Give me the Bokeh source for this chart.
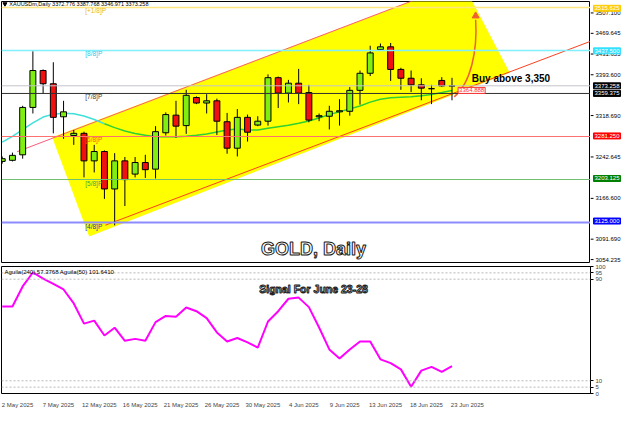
from bokeh.plotting import figure
from bokeh.layouts import column, row
from bokeh.models import Range1d, LinearAxis, FixedTicker, Label, Span
from bokeh.embed import file_html
from bokeh.resources import INLINE
from bokeh.core.properties import value

# ---------------- data ----------------
opens = [3236, 3238, 3248, 3334, 3401, 3377, 3317, 3283, 3287, 3237, 3254, 3186, 3237, 3213, 3234,
         3222, 3288, 3320, 3301, 3352, 3342, 3346, 3308, 3260, 3316, 3302, 3309, 3388, 3360, 3378,
         3361, 3317, 3318, 3326, 3327, 3365, 3396, 3439, 3444, 3403, 3387, 3375, 3368, 3383, 3372.776]
highs = [3245, 3252, 3337, 3436, 3403, 3416, 3346, 3293, 3290, 3266, 3256, 3251, 3244, 3244, 3248,
         3300, 3325, 3346, 3366, 3354, 3358, 3350, 3324, 3331, 3321, 3318, 3394, 3390, 3384, 3404,
         3375, 3323, 3337, 3349, 3371, 3401, 3446, 3450, 3451, 3406, 3401, 3387, 3375, 3389, 3387.768]
lows = [3232, 3236, 3241, 3323, 3359, 3287, 3277, 3266, 3207, 3216, 3168, 3120, 3155, 3207, 3206,
        3205, 3283, 3279, 3286, 3340, 3323, 3284, 3250, 3245, 3272, 3300, 3301, 3333, 3343, 3340,
        3307, 3309, 3294, 3301, 3319, 3339, 3391, 3437, 3382, 3366, 3362, 3347, 3340, 3371, 3346.971]
closes = [3241, 3247, 3334, 3401, 3377, 3316, 3326, 3287, 3237, 3254, 3186, 3237, 3203, 3234, 3221,
          3290, 3321, 3300, 3356, 3342, 3346, 3309, 3260, 3316, 3289, 3309, 3388, 3360, 3378, 3360,
          3311, 3319, 3327, 3328, 3365, 3396, 3433, 3444, 3403, 3387, 3375, 3369, 3368, 3373, 3373.258]
ma_line = [3271.0, 3281.5, 3293.8, 3306.0, 3316.5, 3321.8, 3323.5, 3322.6, 3318.3, 3312.1, 3304.3,
           3297.3, 3291.2, 3286.8, 3283.3, 3280.7, 3280.7, 3280.7, 3281.5, 3283.3, 3285.9, 3289.4,
           3292.9, 3294.7, 3292.9, 3292.9, 3296.4, 3299.0, 3301.6, 3305.1, 3309.5, 3314.8, 3320.9,
           3326.1, 3331.4, 3336.6, 3343.6, 3348.9, 3351.5, 3352.4, 3353.2, 3355.0, 3357.6, 3361.1, 3364.888]
aguila = [68.5, 68.5, 84.3, 95.3, 90.5, 86.3, 81.9, 70.9, 55.0, 57.4, 45.7, 51.8, 41.5, 43.0, 41.5,
          56.2, 61.1, 60.4, 67.7, 64.8, 59.4, 48.1, 41.0, 43.7, 40.3, 36.2, 56.7, 64.8, 74.6, 75.5,
          68.0, 52.0, 34.7, 27.6, 34.7, 41.0, 41.0, 26.9, 23.9, 19.0, 5.3, 18.0, 21.0, 17.1, 21.5]
date_ticks = [0, 4, 8, 12, 16, 20, 24, 28, 32, 36, 40, 44]
date_labels = ["2 May 2025", "7 May 2025", "12 May 2025", "16 May 2025", "21 May 2025", "26 May 2025",
               "30 May 2025", "4 Jun 2025", "9 Jun 2025", "13 Jun 2025", "18 Jun 2025", "23 Jun 2025"]
price_ticks = [3054.235, 3091.690, 3166.600, 3242.645, 3318.690, 3393.600, 3431.655, 3469.645, 3507.100]
levels = [3515.625, 3437.500, 3359.375, 3281.250, 3203.125, 3125.000]
level_names = ["[+1/8]P", "[8/8]P", "[7/8]P", "[6/8]P", "[5/8]P", "[4/8]P"]
last_price = 3373.258
ma_last = 3364.888
osc_ticks = [0, 5, 10, 90, 95, 100]
osc_levels = [5, 10, 90, 95]
title_text = "XAUUSDm,Daily  3372.776 3387.768 3346.971 3373.258"
osc_text = "Aguila(240) 57.3768  Aguila(50) 101.6410"
signal_text = "Buy above 3,350"
big_title = "GOLD, Daily"
sub_title = "Signal For June 23-28"

# channel anchors (bar index, price)
upper_x = [1.46, 44.98]
upper_y = [3253.6, 3562.0]
lower_x = [10.09, 57.71]
lower_y = [3120.2, 3455.2]
zone_x = [4.89, 8.51, 49.65, 44.98]
zone_y = [3279.8, 3099.7, 3396.9, 3562.0]

# ---------------- styles ----------------
FONT = "Liberation Sans"
BULL = "#80ee10"
BEAR = "#f01010"
level_line_colors = ["#ffe680", "#80f0ff", "#303030", "#ff7070", "#70c070", "#8c8cff"]
level_line_widths = [1.5, 1.5, 1, 1, 1, 2]
level_text_colors = ["#e8b820", "#30c8e8", "#404040", "#ff5a00", "#50a040", "#3030b0"]
box_colors = ["#ffcc00", "#33e0ff", "#000000", "#ff0000", "#008000", "#0000ff"]

X0, X1 = -0.07, 57.55
Y0, Y1 = 3052.5, 3526.3
MAIN_H, TOP_B, BOT_B = 264, 1, 2
K = (Y1 - Y0) / (MAIN_H - TOP_B - BOT_B)   # price per pixel in the main frame


def bx(px):
    return (px - 0.7) / 10.5


def py(y):
    return 3507.1 - (y - 12) * 1.7485


def iy(y):
    return (411.6 - y) / 1.3625


n = len(opens)
idx = list(range(n))

p = figure(width=590, height=MAIN_H, x_range=Range1d(X0, X1), y_range=Range1d(Y0, Y1),
           output_backend="svg", toolbar_location=None, x_axis_location=None,
           y_axis_location=None, min_border_left=1, min_border_right=0,
           min_border_top=TOP_B, min_border_bottom=BOT_B)
p.grid.visible = False
p.outline_line_color = "black"
p.background_fill_color = "white"
p.border_fill_color = "white"

# yellow channel zone
p.patch(zone_x, zone_y, fill_color="#ffff00", line_color=None)

# levels
for lv, lc, lw in zip(levels, level_line_colors, level_line_widths):
    p.add_layout(Span(location=lv, dimension="width", line_color=lc, line_width=lw))
p.add_layout(Span(location=last_price, dimension="width", line_color="#c4c4cc", line_width=1))

# channel lines
p.line(upper_x, upper_y, line_color="#ff5a7a", line_width=1)
p.line(lower_x, lower_y, line_color="#ff4020", line_width=1)

# moving average (cyan first part, green afterwards)
p.line(idx[:11], ma_line[:11], line_color="#40e0d8", line_width=1.5)
p.line(idx[10:], ma_line[10:], line_color="#30d030", line_width=1.5)

# candles
p.segment(idx, highs, idx, lows, line_color="black", line_width=1)
bull = [i for i in idx if closes[i] >= opens[i]]
bear = [i for i in idx if closes[i] < opens[i]]
p.vbar(x=bull, width=0.58, top=[closes[i] for i in bull], bottom=[opens[i] for i in bull],
       fill_color=BULL, line_color="black", line_width=1)
p.vbar(x=bear, width=0.58, top=[opens[i] for i in bear], bottom=[closes[i] for i in bear],
       fill_color=BEAR, line_color="black", line_width=1)

# curved arrow
p.bezier(x0=[bx(465)], y0=[py(100)], x1=[bx(487)], y1=[py(20)],
         cx0=[bx(482)], cy0=[py(86)], cx1=[bx(489)], cy1=[py(52)],
         line_color="#f06030", line_width=1.5)
p.scatter([bx(487)], [py(16)], marker="triangle", size=7, fill_color="#f06030", line_color="#f06030")

# texts
p.scatter([bx(3.5)], [py(3.5)], marker="inverted_triangle", size=4, color="black")
p.add_layout(Label(x=bx(8), y=py(3.5), text=title_text, text_font=FONT, text_font_size="5.5px",
                   text_baseline="middle", text_color="black"))
for lv, nm, tc in zip(levels, level_names, level_text_colors):
    p.add_layout(Label(x=bx(86), y=lv, text=nm, text_font=FONT, text_font_size="6.5px",
                       text_baseline="top", text_color=tc))
p.add_layout(Label(x=bx(483), y=py(81), text=signal_text, text_font=FONT, text_font_size="10px",
                   text_font_style="bold", text_baseline="middle", text_color="black"))
p.add_layout(Label(x=bx(320.5), y=py(258), text=big_title, text_font=FONT, text_font_size="18px",
                   text_font_style="bold", text_align="center", text_baseline="middle",
                   text_color="white", text_outline_color="#202020"))
p.add_layout(Label(x=bx(469), y=ma_last, text="%.3f" % ma_last, text_font=FONT, text_font_size="6px",
                   text_baseline="middle", text_color="#ff3030", background_fill_color="white",
                   border_line_color="#ff3030", padding=1))

# ---------------- price scale panel (right of the chart) ----------------
r = figure(width=34, height=MAIN_H, x_range=Range1d(0, 34),
           y_range=Range1d(Y0 - BOT_B * K, Y1 + TOP_B * K),
           output_backend="svg", toolbar_location=None, x_axis_location=None,
           y_axis_location=None, min_border_left=0, min_border_right=0,
           min_border_top=0, min_border_bottom=0)
r.grid.visible = False
r.outline_line_color = None
r.border_fill_color = "white"
r.background_fill_color = "white"
r.segment(x0=[0] * len(price_ticks), y0=price_ticks, x1=[3] * len(price_ticks), y1=price_ticks,
          line_color="black", line_width=1)
r.text(x=[5] * len(price_ticks), y=price_ticks, text=["%.3f" % t for t in price_ticks],
       text_font=value(FONT), text_font_size="6px", text_baseline="middle", text_color="black")
box_vals = [levels[0], levels[1], last_price] + levels[2:]
box_cols = box_colors[:2] + ["#000000"] + box_colors[2:]
for lv, bc in zip(box_vals, box_cols):
    r.add_layout(Label(x=3, y=lv, text="%.3f" % lv, text_font=FONT, text_font_size="6px",
                       text_baseline="middle", text_color="white", background_fill_color=bc,
                       border_line_color=bc, padding=1))

# ---------------- oscillator panel ----------------
q = figure(width=624, height=146, x_range=p.x_range, y_range=Range1d(0, 100),
           output_backend="svg", toolbar_location=None, x_axis_location=None,
           y_axis_location="right", min_border_left=1, min_border_right=34,
           min_border_top=2, min_border_bottom=14)
q.grid.visible = False
q.outline_line_color = "black"
q.border_fill_color = "white"

qa = q.yaxis[0]
qa.ticker = FixedTicker(ticks=osc_ticks)
qa.major_label_text_font = FONT
qa.major_label_text_font_size = "6px"
qa.major_tick_in = 0
qa.major_tick_out = 3
qa.minor_tick_line_color = None
qa.major_label_standoff = 2

for lv in osc_levels:
    q.add_layout(Span(location=lv, dimension="width", line_color="#b8b8b8", line_width=1, line_dash="2 2"))

q.line(idx, aguila, line_color="#ff00ff", line_width=2)

shift = 1.5
q.extra_x_ranges = {"lab": Range1d(X0 - shift, X1 - shift)}
xa = LinearAxis(x_range_name="lab", ticker=FixedTicker(ticks=date_ticks),
                major_label_overrides={t: s for t, s in zip(date_ticks, date_labels)},
                major_tick_line_color=None, minor_tick_line_color=None, axis_line_color=None,
                major_label_text_font=FONT, major_label_text_font_size="6px", major_label_standoff=2)
q.add_layout(xa, "below")

q.add_layout(Label(x=bx(3), y=iy(281), text=osc_text, text_font=FONT, text_font_size="6px",
                   text_baseline="middle", text_color="black"))
q.add_layout(Label(x=bx(320.5), y=iy(299.5), text=sub_title, text_font=FONT, text_font_size="10.5px",
                   text_font_style="bold", text_align="center", text_baseline="middle",
                   text_color="white", text_outline_color="#202020"))

layout = column(row(p, r, spacing=0), q, spacing=0)
open("out.html", "w").write(file_html(layout, INLINE))
